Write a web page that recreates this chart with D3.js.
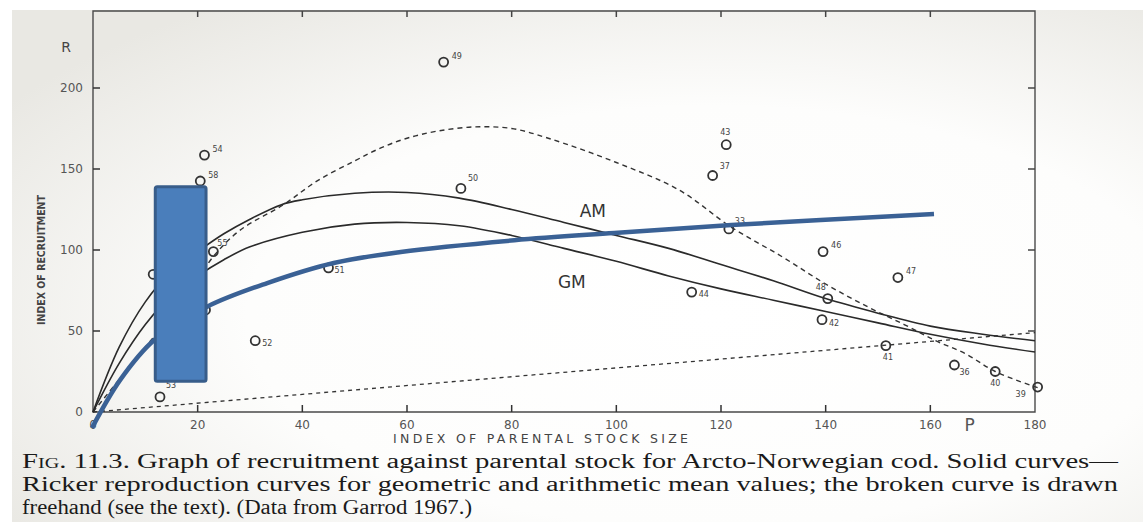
<!DOCTYPE html>
<html>
<head>
<meta charset="utf-8">
<script src="https://cdn.jsdelivr.net/npm/d3@7"></script>
<style>
  html, body { margin: 0; padding: 0; background: #fff; }
  svg { display: block; }
</style>
</head>
<body>
<svg id="chart" width="1143" height="522"></svg>
<script>
// year-class observations (P = parental stock, R = recruitment)
const obsP = [67, 21.3, 20.5, 70.3, 121, 118.4, 121.5, 139.5, 153.8, 140.4, 114.4, 139.3, 151.5, 164.6, 172.4, 180.5, 45, 31, 12.8, 23, 11.5, 21.5];
const obsR = [216, 158.6, 142.6, 138, 165, 146, 113, 99, 83, 70, 74, 57, 41, 29, 25, 15.4, 89, 44, 9.3, 99, 85, 63];
const obsLabel = ['49', '54', '58', '50', '43', '37', '33', '46', '47', '48', '44', '42', '41', '36', '40', '39', '51', '52', '53', '55', '', ''];

// Ricker curves (arithmetic / geometric mean) and the freehand curve
const amP = [0, 5, 10, 15, 20, 25, 30, 36, 40, 50, 60, 70, 80, 90, 100, 110, 120, 130, 140, 150, 160, 170, 180];
const amR = [0, 40, 68, 87, 99, 110, 119, 128, 131, 135, 135.5, 132, 125, 117, 109, 101, 91, 81, 70, 61, 53, 48, 44];
const gmP = [0, 5, 10, 15, 20, 25, 30, 40, 50, 60, 70, 80, 90, 100, 110, 120, 130, 140, 150, 160, 170, 180];
const gmR = [0, 30, 54, 72, 84, 94, 102, 111, 116, 117, 115, 109, 101, 93, 84, 76, 69, 62, 55, 48, 42, 37];
const freeP = [0, 5, 10, 15, 20, 23, 28, 36.4, 43, 50, 55, 60, 66, 73, 80, 87, 100, 112, 122, 131.6, 140, 148, 155, 161, 166.7, 172.4, 180.5];
const freeR = [0, 20, 40, 60, 82, 96, 112, 128, 143, 155, 163, 169, 173.5, 176, 175, 169, 154, 137, 114, 96, 79, 65, 54, 44, 36, 25, 15];
const repP = [0, 180];
const repR = [0, 49];

// blue overlay added on the slide
const blueP = [-0.2, 5.2, 11.7, 21.8, 33.3, 46, 58.8, 80.5, 99.6, 122, 160.7];
const blueR = [-9.9, 19.8, 44.4, 65, 79.6, 92, 98.8, 106, 110.5, 115.4, 122.2];
const boxP = [11.9, 21.6];
const boxR = [19, 139];

const xTicks = [0, 20, 40, 60, 80, 100, 120, 140, 160, 180];
const yTicks = [0, 50, 100, 150, 200];
const captionLines = [
  'Graph of recruitment against parental stock for Arcto-Norwegian cod. Solid curves—',
  'Ricker reproduction curves for geometric and arithmetic mean values; the broken curve is drawn',
  'freehand (see the text). (Data from Garrod 1967.)'
];

const svg = d3.select('#chart');
const x = d3.scaleLinear().domain([0, 180]).range([93, 1035]);
const y = d3.scaleLinear().domain([0, 200]).range([412, 88]);
const frameTop = 11;
const ink = '#2a2a2a';

// scanned paper background
const defs = svg.append('defs');
const grad = defs.append('radialGradient').attr('id', 'paper')
  .attr('cx', '0.62').attr('cy', '0.6').attr('r', '0.75');
grad.append('stop').attr('offset', '0').attr('stop-color', '#ffffff');
grad.append('stop').attr('offset', '0.55').attr('stop-color', '#fdfdfc');
grad.append('stop').attr('offset', '1').attr('stop-color', '#e9e8e3');
svg.append('rect').attr('x', 12).attr('y', 10).attr('width', 1131).attr('height', 512)
  .attr('fill', 'url(#paper)');

// frame
const g = svg.append('g');
g.append('path')
  .attr('d', `M${x(0)},${y(0)} V${frameTop} H${x(180)} V${y(0)} Z`)
  .attr('fill', 'none').attr('stroke', '#4a4a4a').attr('stroke-width', 1.4);

// inward ticks on all four sides
g.selectAll('.xb').data(xTicks.slice(1, -1)).join('line')
  .attr('x1', d => x(d)).attr('x2', d => x(d))
  .attr('y1', y(0)).attr('y2', y(0) - 7)
  .attr('stroke', '#333').attr('stroke-width', 1.5);
g.selectAll('.xt').data(xTicks.slice(1, -1)).join('line')
  .attr('x1', d => x(d)).attr('x2', d => x(d))
  .attr('y1', frameTop).attr('y2', frameTop + 6)
  .attr('stroke', '#444').attr('stroke-width', 1.5);
g.selectAll('.yl').data(yTicks.slice(1)).join('line')
  .attr('x1', x(0)).attr('x2', x(0) + 7)
  .attr('y1', d => y(d)).attr('y2', d => y(d))
  .attr('stroke', '#333').attr('stroke-width', 1.5);
g.selectAll('.yr').data(yTicks.slice(1)).join('line')
  .attr('x1', x(180)).attr('x2', x(180) - 7)
  .attr('y1', d => y(d)).attr('y2', d => y(d))
  .attr('stroke', '#444').attr('stroke-width', 1.5);

const axisFont = 'DejaVu Sans, Liberation Sans, sans-serif';
g.selectAll('.xl').data(xTicks).join('text')
  .attr('x', d => x(d)).attr('y', y(0) + 17)
  .attr('text-anchor', 'middle')
  .attr('font-family', axisFont).attr('font-size', 12).attr('fill', '#555')
  .text(d => d);
g.append('text').attr('x', x(167.5)).attr('y', y(0) + 19)
  .attr('text-anchor', 'middle').attr('font-family', axisFont)
  .attr('font-size', 17).attr('fill', '#555').text('P');
g.selectAll('.ylab').data(yTicks).join('text')
  .attr('x', x(0) - 10).attr('y', d => y(d) + 4)
  .attr('text-anchor', 'end')
  .attr('font-family', axisFont).attr('font-size', 12).attr('fill', '#555')
  .text(d => d);
g.append('text').attr('x', 66).attr('y', 52)
  .attr('text-anchor', 'middle').attr('font-family', axisFont)
  .attr('font-size', 14).attr('fill', '#444').text('R');

g.append('text').attr('x', 393).attr('y', 443)
  .attr('font-family', axisFont).attr('font-size', 12.5)
  .attr('textLength', 295).attr('lengthAdjust', 'spacing').attr('fill', '#444')
  .text('INDEX OF PARENTAL STOCK SIZE');
g.append('text').attr('transform', 'translate(45,325) rotate(-90)')
  .attr('font-family', axisFont)
  .attr('font-size', 11).attr('font-weight', 'bold')
  .attr('textLength', 130).attr('lengthAdjust', 'spacingAndGlyphs')
  .attr('fill', '#444')
  .text('INDEX OF RECRUITMENT');

// curves
const line = d3.line().x(d => x(d[0])).y(d => y(d[1])).curve(d3.curveCatmullRom.alpha(0.5));
const zip = (a, b) => a.map((v, i) => [v, b[i]]);

g.append('path').attr('d', line(zip(repP, repR)))
  .attr('fill', 'none').attr('stroke', '#333').attr('stroke-width', 1.3)
  .attr('stroke-dasharray', '4,4');
g.append('path').attr('d', line(zip(freeP, freeR)))
  .attr('fill', 'none').attr('stroke', '#333').attr('stroke-width', 1.4)
  .attr('stroke-dasharray', '5,4');
g.append('path').attr('d', line(zip(amP, amR)))
  .attr('fill', 'none').attr('stroke', ink).attr('stroke-width', 1.6);
g.append('path').attr('d', line(zip(gmP, gmR)))
  .attr('fill', 'none').attr('stroke', ink).attr('stroke-width', 1.6);

g.append('text').attr('x', x(95.5)).attr('y', y(124) + 6)
  .attr('text-anchor', 'middle').attr('font-family', axisFont)
  .attr('font-size', 17).attr('fill', '#333').text('AM');
g.append('text').attr('x', x(91.5)).attr('y', y(80) + 6)
  .attr('text-anchor', 'middle').attr('font-family', axisFont)
  .attr('font-size', 17).attr('fill', '#333').text('GM');

// observations
const obs = obsP.map((p, i) => ({ p, r: obsR[i], label: obsLabel[i] }));
const labelOffset = {
  '49': [8, -3], '54': [8, -3], '58': [8, -3], '50': [7, -7], '43': [-6, -10],
  '37': [7, -6], '33': [6, -5], '46': [8, -4], '47': [8, -4], '48': [-12, -9],
  '44': [7, 5], '42': [7, 6], '41': [-3, 14], '36': [5, 10], '40': [-5, 14],
  '39': [-22, 10], '51': [6, 5], '52': [7, 5], '53': [6, -9], '55': [4, -6]
};
g.selectAll('circle.obs').data(obs).join('circle')
  .attr('class', 'obs')
  .attr('cx', d => x(d.p)).attr('cy', d => y(d.r)).attr('r', 4.5)
  .attr('fill', 'none').attr('stroke', '#333').attr('stroke-width', 1.8);
g.selectAll('text.obs').data(obs.filter(d => d.label)).join('text')
  .attr('class', 'obs')
  .attr('x', d => x(d.p) + labelOffset[d.label][0])
  .attr('y', d => y(d.r) + labelOffset[d.label][1])
  .attr('font-family', axisFont).attr('font-size', 8).attr('fill', '#444')
  .text(d => d.label);

// blue overlay
g.append('path').attr('d', line(zip(blueP, blueR)))
  .attr('fill', 'none').attr('stroke', '#3a6195').attr('stroke-width', 4.5)
  .attr('stroke-linecap', 'butt');
g.append('rect')
  .attr('x', x(boxP[0])).attr('y', y(boxR[1]))
  .attr('width', x(boxP[1]) - x(boxP[0])).attr('height', y(boxR[0]) - y(boxR[1]))
  .attr('fill', '#4a7ebb').attr('stroke', '#385d8a').attr('stroke-width', 3)
  .attr('rx', 2);

// caption
const cap = svg.append('g')
  .attr('font-family', 'Liberation Serif, Times New Roman, serif')
  .attr('font-size', 20).attr('fill', '#1a1a1a');
const l1 = cap.append('text').attr('x', 22).attr('y', 468)
  .attr('textLength', 1096).attr('lengthAdjust', 'spacingAndGlyphs');
l1.append('tspan').attr('font-variant', 'small-caps').text('Fig. ');
l1.append('tspan').text('11.3. ' + captionLines[0]);
cap.append('text').attr('x', 22).attr('y', 491)
  .attr('textLength', 1096).attr('lengthAdjust', 'spacingAndGlyphs')
  .text(captionLines[1]);
cap.append('text').attr('x', 22).attr('y', 514)
  .attr('textLength', 450).attr('lengthAdjust', 'spacingAndGlyphs')
  .text(captionLines[2]);
</script>
</body>
</html>
